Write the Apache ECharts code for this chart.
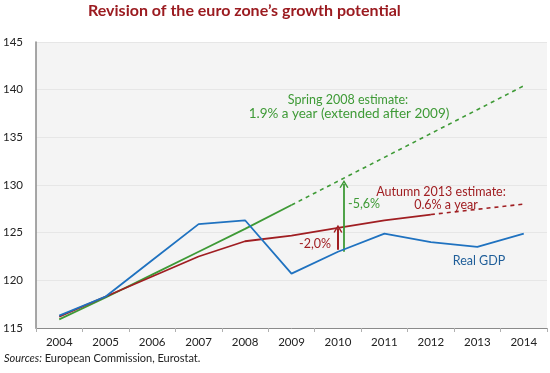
<!DOCTYPE html>
<html><head><meta charset="utf-8">
<script src="https://cdn.jsdelivr.net/npm/echarts@6/dist/echarts.min.js"></script>
<style>html,body{margin:0;padding:0;background:#fff}#c{width:550px;height:373px}</style>
</head><body><div id="c"></div>
<script>
var years = ['2004','2005','2006','2007','2008','2009','2010','2011','2012','2013','2014'];
var realGDP   = [116.3, 118.3, 122.1, 125.9, 126.3, 120.7, 123.0, 124.9, 124.0, 123.5, 124.9];
var autumn2013 = [116.2, 118.3, 120.4, 122.5, 124.1, 124.7, 125.5, 126.3, 126.9, 127.45, 128.0];
var spring2008 = [115.9, 118.2, 120.6, 123.0, 125.4, 127.9, 130.4, 132.9, 135.4, 137.9, 140.4];
var autumnSolidUntil = '2012';
var springSolidUntil = '2009';
var arrowYear = 2010;
var redArrow = [123.2, 125.4];
var greenArrow = [123.0, 130.1];
var yTicks = [115, 120, 125, 130, 135, 140, 145];

function pairs(vals, from, to) {
  var out = [];
  for (var i = 0; i < years.length; i++) {
    var y = +years[i];
    if (y >= from && y <= to) out.push([y, vals[i]]);
  }
  return out;
}
var BLUE = '#1f72c0', RED = '#a01e22', GREEN = '#3e9a36';
var chevron = 'path://M0,9 L5,0 L10,9 L8.6,9.8 L5,3.2 L1.4,9.8 Z';
var chart = echarts.init(document.getElementById('c'));
chart.setOption({
  animation: false,
  textStyle: { fontFamily: 'Lato' },
  grid: { left: 33, right: 3, top: 42, bottom: 45, show: true, backgroundColor: '#f4f4f4', borderWidth: 0 },
  xAxis: [
    { type: 'value', min: 2003.5, max: 2014.5, show: false },
    { type: 'category', data: years, position: 'bottom', boundaryGap: true,
      axisLine: { lineStyle: { color: '#8a8a8a', width: 1 } },
      axisTick: { show: true, length: 4, inside: false, lineStyle: { color: '#b0b0b0' } },
      axisLabel: { color: '#222', fontSize: 11.5, margin: 8, fontFamily: 'Lato' },
      splitLine: { show: false } }
  ],
  yAxis: {
    type: 'value', min: yTicks[0], max: yTicks[yTicks.length - 1], interval: 5,
    axisLine: { show: true, lineStyle: { color: '#8a8a8a', width: 1.5 } },
    axisTick: { show: false },
    axisLabel: { color: '#222', fontSize: 11.5, margin: 13, align: 'right', fontFamily: 'Lato' },
    splitLine: { lineStyle: { color: '#e6e6e6', width: 1 } }
  },
  series: [
    { type: 'line', xAxisIndex: 0, data: pairs(spring2008, 2004, +springSolidUntil), symbol: 'none',
      lineStyle: { color: GREEN, width: 1.8 }, z: 3 },
    { type: 'line', xAxisIndex: 0, data: pairs(spring2008, +springSolidUntil, 2014), symbol: 'none',
      lineStyle: { color: GREEN, width: 1.6, type: [4, 4] }, z: 3 },
    { type: 'line', xAxisIndex: 0, data: pairs(autumn2013, 2004, +autumnSolidUntil), symbol: 'none',
      lineStyle: { color: RED, width: 1.8 }, z: 4,
      markLine: { silent: true, symbol: ['none', chevron], symbolSize: [9, 8],
        lineStyle: { color: RED, width: 2, type: 'solid' }, label: { show: false },
        data: [[{ coord: [arrowYear, redArrow[0]] }, { coord: [arrowYear, redArrow[1]] }]] } },
    { type: 'line', xAxisIndex: 0, data: pairs(autumn2013, +autumnSolidUntil, 2014), symbol: 'none',
      lineStyle: { color: RED, width: 1.6, type: [4, 4] }, z: 4 },
    { type: 'line', xAxisIndex: 0, data: pairs(realGDP, 2004, 2014), symbol: 'none',
      lineStyle: { color: BLUE, width: 1.8 }, z: 5,
      markLine: { silent: true, symbol: ['none', chevron], symbolSize: [9, 8],
        lineStyle: { color: GREEN, width: 1.8, type: 'solid' }, label: { show: false },
        data: [[{ coord: [arrowYear + 0.13, greenArrow[0]] }, { coord: [arrowYear + 0.13, greenArrow[1]] }]] } }
  ],
  graphic: [
    { type: 'text', left: 88, top: 3, style: { text: 'Revision of the euro zone\u2019s growth potential',
      fill: '#9b1b20', font: 'bold 16px Lato' } },
    { type: 'text', x: 348, y: 100, style: { text: 'Spring 2008 estimate:', fill: GREEN, font: '12.5px Lato', align: 'center', verticalAlign: 'middle' } },
    { type: 'text', x: 349, y: 114, style: { text: '1.9% a year (extended after 2009)', fill: GREEN, font: '13.5px Lato', align: 'center', verticalAlign: 'middle' } },
    { type: 'text', x: 441, y: 192, style: { text: 'Autumn 2013 estimate:', fill: RED, font: '12.5px Lato', align: 'center', verticalAlign: 'middle' } },
    { type: 'text', x: 446, y: 205, style: { text: '0.6% a year', fill: RED, font: '12.5px Lato', align: 'center', verticalAlign: 'middle' } },
    { type: 'text', x: 364, y: 204, style: { text: '-5,6%', fill: GREEN, font: '12.5px Lato', align: 'center', verticalAlign: 'middle' } },
    { type: 'text', x: 315, y: 244, style: { text: '-2,0%', fill: RED, font: '12.5px Lato', align: 'center', verticalAlign: 'middle' } },
    { type: 'text', x: 479, y: 261, style: { text: 'Real GDP', fill: '#1f5e99', font: '12.5px Lato', align: 'center', verticalAlign: 'middle' } },
    { type: 'text', x: 4, y: 358, style: { text: '{i|Sources:} European Commission, Eurostat.', fill: '#222', font: '11px Lato', verticalAlign: 'middle',
      rich: { i: { fontStyle: 'italic', fontSize: 11, fontFamily: 'Lato', fill: '#222' } } } }
  ]
});
</script></body></html>
